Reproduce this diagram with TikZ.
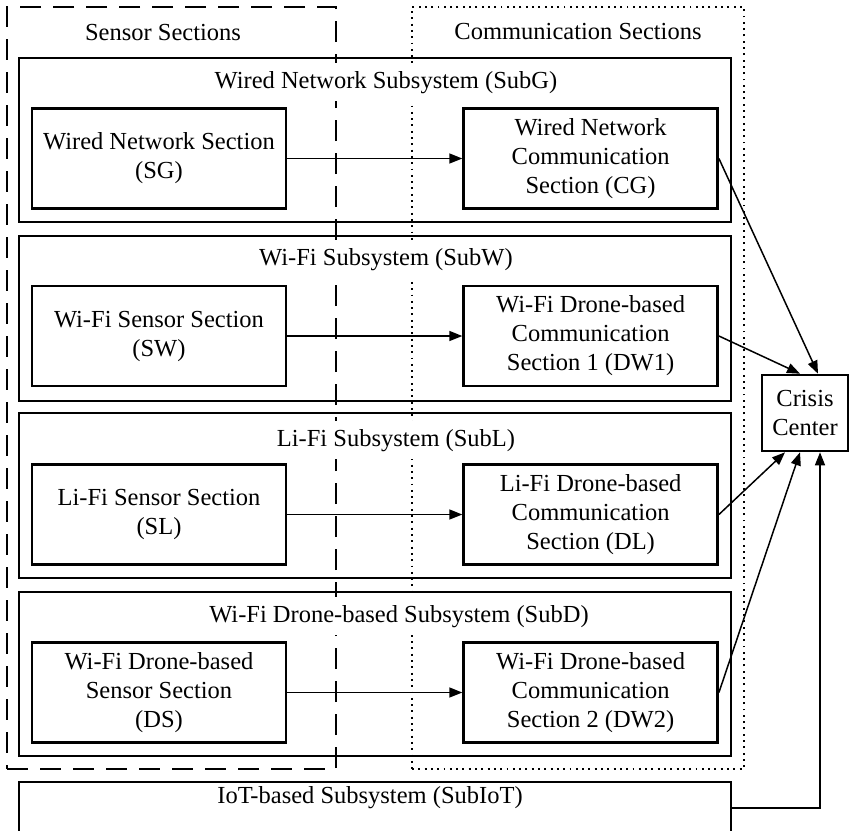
\documentclass[tikz,border=0pt]{standalone}
\usepackage{fontspec}
\setmainfont{Liberation Serif}
\usetikzlibrary{arrows.meta, positioning}

\begin{document}
\begin{tikzpicture}[
    x=1pt, y=-1pt,
    font=\fontsize{24.5}{29}\selectfont,
    section/.style={rectangle, minimum width=329pt, minimum height=762pt, inner sep=0pt},
    sensorline/.style={draw, line width=2.6pt, dash pattern=on 21pt off 12pt},
    commline/.style={draw, line width=1.9pt, dash pattern=on 1.9pt off 4.4pt},
    subsys/.style={rectangle, draw, line width=1.3pt, minimum width=712pt, minimum height=164pt, inner sep=0pt},
    subtitle/.style={fill=white, inner xsep=2pt, inner ysep=8pt, anchor=base},
    box/.style={rectangle, draw, fill=white, line width=2.6pt, minimum width=254pt, minimum height=100pt, align=center, inner sep=2pt},
    arrow/.style={-{Triangle[length=13pt, width=10pt]}, line width=1.5pt}
  ]
    \useasboundingbox (0,0) rectangle (850,830);

    % sensor and communication sections
    \node[section, sensorline] (sensorsec) at (171.5,388) {};
    \node[section, commline, minimum width=332pt] (commsec) at (578,388) {};
    \node[anchor=base] (sensortext) at (163,40) {Sensor Sections};
    \node[anchor=base] (commtext) at (578,39.5) {Communication Sections};

    % subsystems
    \node[subsys] (subg) at (375,140) {};
    \node[subsys, minimum height=165pt] (subw) at (375,318.5) {};
    \node[subsys, minimum height=165pt] (subl) at (375,495.5) {};
    \node[subsys] (subd) at (375,674) {};
    \node[subsys, minimum height=52pt] (subiot) at (375,808) {};

    \node[subtitle] (subgtext) at (386,88) {Wired Network Subsystem (SubG)};
    \node[subtitle] (subwtext) at (386,265) {Wi-Fi Subsystem (SubW)};
    \node[subtitle] (subltext) at (396,446) {Li-Fi Subsystem (SubL)};
    \node[subtitle] (subdtext) at (399,622) {Wi-Fi Drone-based Subsystem (SubD)};
    \node[anchor=base] (subiottext) at (370,803) {IoT-based Subsystem (SubIoT)};

    % sections inside the subsystems
    \node[box] (sg) at (159,158.5) {Wired Network Section\\(SG)};
    \node[box, right=175pt of sg] (cg) {Wired Network\\Communication\\Section (CG)};
    \node[box] (sw) at (159,336) {Wi-Fi Sensor Section\\(SW)};
    \node[box, right=175pt of sw] (dw1) {Wi-Fi Drone-based\\Communication\\Section 1 (DW1)};
    \node[box] (sl) at (159,514.5) {Li-Fi Sensor Section\\(SL)};
    \node[box, right=175pt of sl] (dl) {Li-Fi Drone-based\\Communication\\Section (DL)};
    \node[box] (ds) at (159,692.5) {Wi-Fi Drone-based\\Sensor Section\\(DS)};
    \node[box, right=175pt of ds] (dw2) {Wi-Fi Drone-based\\Communication\\Section 2 (DW2)};

    \node[box, minimum width=86pt, minimum height=76pt, inner sep=0pt] (crisis) at (805,413) {Crisis\\Center};

    \draw[arrow] (sg) -- (cg);
    \draw[arrow] (sw) -- (dw1);
    \draw[arrow] (sl) -- (dl);
    \draw[arrow] (ds) -- (dw2);
    \draw[arrow] (cg.east) -- ([xshift=13pt]crisis.north);
    \draw[arrow] (dw1.east) -- ([xshift=-5pt]crisis.north);
    \draw[arrow] (dl.east) -- ([xshift=-20pt]crisis.south);
    \draw[arrow] (dw2.east) -- ([xshift=-5pt]crisis.south);
    \draw[arrow] (subiot.east) -| ([xshift=15pt]crisis.south);
  \end{tikzpicture}
\end{document}
